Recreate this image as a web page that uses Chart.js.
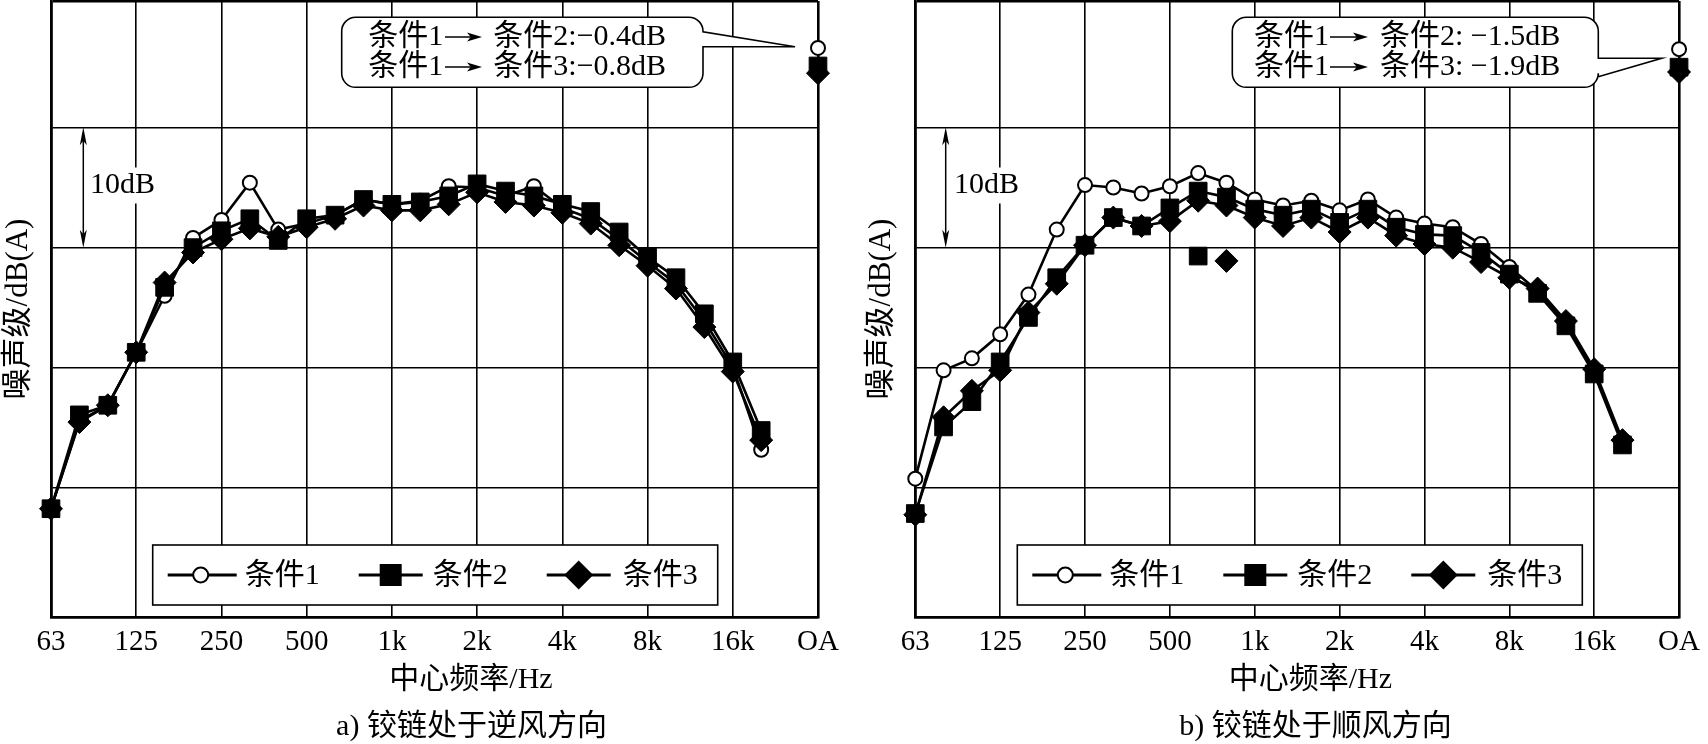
<!DOCTYPE html>
<html>
<head>
<meta charset="utf-8">
<script src="https://cdn.jsdelivr.net/npm/chart.js@4.4.1/dist/chart.umd.min.js"></script>
<style>
  body { margin: 0; background: #fff; }
  .panel { position: absolute; top: 0; width: 854px; height: 744px; }
  canvas { display: block; }
</style>
</head>
<body>
<div class="panel" style="left:0"><canvas id="chart_a" width="854" height="744"></canvas></div>
<div class="panel" style="left:854px"><canvas id="chart_b" width="854" height="744"></canvas></div>
<script>
// 1/3 octave centre frequencies, position on the x axis = index
const bands = ['63', '80', '100', '125', '160', '200', '250', '315', '400', '500', '630', '800', '1k',
               '1.25k', '1.6k', '2k', '2.5k', '3.15k', '4k', '5k', '6.3k', '8k', '10k', '12.5k', '16k', '20k'];
const octaveLabels = ['63', '125', '250', '500', '1k', '2k', '4k', '8k', '16k', 'OA'];
const seriesNames = ['条件1', '条件2', '条件3'];

// y grid (dB), no tick labels in the figure
const yGrid = [50, 60, 70, 80];
const yMin = 39.3;
const yMax = 90.5;

// a) hinge upwind
const a_cond1 = [48.3, 55.6, 56.9, 61.3, 66.0, 70.8, 72.3, 75.4, 71.5, 72.0, 72.7, 74.0, 73.6,
                 73.9, 75.1, 75.0, 74.3, 75.1, 73.3, 72.4, 70.7, 68.8, 67.0, 63.9, 60.1, 53.2];
const a_cond2 = [48.3, 56.1, 56.9, 61.3, 66.7, 70.0, 71.4, 72.4, 70.6, 72.4, 72.7, 74.0, 73.6,
                 73.8, 74.3, 75.3, 74.7, 74.3, 73.6, 73.0, 71.3, 69.2, 67.5, 64.5, 60.5, 54.8];
const a_cond3 = [48.3, 55.5, 56.9, 61.3, 67.1, 69.6, 70.7, 71.6, 70.9, 71.7, 72.4, 73.5, 73.1,
                 73.1, 73.6, 74.6, 73.8, 73.5, 72.9, 72.0, 70.2, 68.5, 66.6, 63.4, 59.7, 54.0];
const a_oa = [86.6, 85.1, 84.5];
const a_notes = ['条件2:−0.4dB', '条件3:−0.8dB'];

// b) hinge downwind
const b_cond1 = [50.8, 59.8, 60.8, 62.8, 66.1, 71.5, 75.2, 75.0, 74.5, 75.1, 76.2, 75.4, 74.0,
                 73.5, 73.9, 73.1, 74.0, 72.5, 72.0, 71.7, 70.3, 68.4, 66.4, 63.7, 59.7, 53.8];
const b_cond2 = [47.9, 55.1, 57.2, 60.5, 64.2, 67.5, 70.2, 72.5, 71.8, 73.3, 74.7, 74.2, 73.2,
                 72.7, 73.2, 72.1, 73.2, 71.7, 71.1, 71.0, 69.6, 67.8, 66.2, 63.5, 59.5, 53.6];
const b_cond3 = [47.8, 55.9, 58.1, 59.8, 64.6, 67.0, 70.2, 72.5, 71.8, 72.2, 73.9, 73.5, 72.5,
                 71.8, 72.5, 71.3, 72.5, 71.0, 70.3, 70.0, 68.8, 67.5, 66.6, 63.9, 59.9, 54.0];
const b_oa = [86.5, 85.0, 84.6];
// loose markers (band index, dB) that sit off the curves
const b_loose2 = [[10, 69.3]];
const b_loose3 = [[11, 68.9]];
const b_notes = ['条件2: −1.5dB', '条件3: −1.9dB'];

const FONT = "'Liberation Serif', 'Noto Sans CJK SC', serif";
Chart.defaults.font.family = FONT;
Chart.defaults.color = '#000';

const markerStyles = [
    { pointStyle: 'circle', pointRadius: 7, pointBackgroundColor: '#fff', pointBorderWidth: 2, order: 3 },
    { pointStyle: 'rect', pointRadius: 12.5, pointBackgroundColor: '#000', pointBorderWidth: 1, order: 2 },
    { pointStyle: 'rectRot', pointRadius: 11.5, pointBackgroundColor: '#000', pointBorderWidth: 1, order: 1 },
];

function curve(values, oa) {
    const pts = values.map((v, i) => ({ x: i, y: v }));
    pts.push({ x: bands.length, y: null });
    pts.push({ x: bands.length + 1, y: oa });
    return pts;
}

function makeDatasets(series, oa, loose) {
    const sets = series.map((vals, k) => Object.assign({
        label: seriesNames[k],
        data: curve(vals, oa[k]),
        borderColor: '#000',
        borderWidth: 2.6,
        pointBorderColor: '#000',
        tension: 0,
        clip: false,
    }, markerStyles[k]));
    loose.forEach((pts, k) => {
        if (!pts.length) return;
        sets.push(Object.assign({
            label: seriesNames[k + 1],
            data: pts.map(p => ({ x: p[0], y: p[1] })),
            showLine: false,
            pointBorderColor: '#000',
            clip: false,
        }, markerStyles[k + 1]));
    });
    return sets;
}

function drawMarker(ctx, style, x, y, r) {
    ctx.beginPath();
    if (style === 'circle') {
        ctx.arc(x, y, r, 0, Math.PI * 2);
        ctx.fillStyle = '#fff';
        ctx.fill();
        ctx.lineWidth = 2;
        ctx.stroke();
        return;
    }
    if (style === 'rect') {
        ctx.rect(x - r, y - r, 2 * r, 2 * r);
    } else {
        ctx.moveTo(x, y - r);
        ctx.lineTo(x + r, y);
        ctx.lineTo(x, y + r);
        ctx.lineTo(x - r, y);
        ctx.closePath();
    }
    ctx.fillStyle = '#000';
    ctx.fill();
}

function arrowHead(ctx, x, y, dx, dy, len, half) {
    // tip at (x, y), pointing along (dx, dy)
    const bx = x - dx * len, by = y - dy * len;
    const nx = -dy, ny = dx;
    ctx.beginPath();
    ctx.moveTo(x, y);
    ctx.lineTo(bx + nx * half, by + ny * half);
    ctx.lineTo(x - dx * len * 0.75, y - dy * len * 0.75);
    ctx.lineTo(bx - nx * half, by - ny * half);
    ctx.closePath();
    ctx.fill();
}

function makeDecor(L, notes, caption) {
    return {
        id: 'decor',
        beforeDatasetsDraw(chart) {
            const ctx = chart.ctx;
            const yScale = chart.scales.y;
            ctx.save();
            ctx.strokeStyle = '#000';
            ctx.fillStyle = '#000';

            // legend box inside the plot
            const lx = L.legendX, ly = 545, lw = 565, lh = 60, cy = 575;
            ctx.fillStyle = '#fff';
            ctx.fillRect(lx, ly, lw, lh);
            ctx.lineWidth = 1.6;
            ctx.strokeRect(lx, ly, lw, lh);
            const legLines = [[15, 84], [206, 270], [394, 458]];
            const legMarks = [48, 238, 426];
            const legText = [92, 280, 470];
            const legSize = [7.5, 11, 14.5];
            ['circle', 'rect', 'rectRot'].forEach((st, k) => {
                ctx.lineWidth = 3;
                ctx.beginPath();
                ctx.moveTo(lx + legLines[k][0], cy);
                ctx.lineTo(lx + legLines[k][1], cy);
                ctx.stroke();
                drawMarker(ctx, st, lx + legMarks[k], cy, legSize[k]);
                ctx.fillStyle = '#000';
                ctx.font = '30px ' + FONT;
                ctx.textBaseline = 'middle';
                ctx.textAlign = 'left';
                ctx.fillText(seriesNames[k], lx + legText[k], cy + 1);
            });

            // callout with the overall-level differences
            const c = L.callout, r = 14;
            ctx.beginPath();
            ctx.moveTo(c.x0 + r, c.y0);
            ctx.lineTo(c.x1 - r, c.y0);
            ctx.arcTo(c.x1, c.y0, c.x1, c.y0 + r, r);
            ctx.lineTo(c.x1, c.pTop);
            ctx.lineTo(c.tip[0], c.tip[1]);
            ctx.lineTo(c.x1, c.pBot);
            ctx.lineTo(c.x1, c.y1 - r);
            ctx.arcTo(c.x1, c.y1, c.x1 - r, c.y1, r);
            ctx.lineTo(c.x0 + r, c.y1);
            ctx.arcTo(c.x0, c.y1, c.x0, c.y1 - r, r);
            ctx.lineTo(c.x0, c.y0 + r);
            ctx.arcTo(c.x0, c.y0, c.x0 + r, c.y0, r);
            ctx.closePath();
            ctx.fillStyle = '#fff';
            ctx.fill();
            ctx.lineWidth = 1.6;
            ctx.stroke();
            ctx.fillStyle = '#000';
            ctx.font = '30px ' + FONT;
            ctx.textBaseline = 'middle';
            ctx.textAlign = 'left';
            [37, 67].forEach((ty, k) => {
                ctx.fillText(seriesNames[0], L.noteX[0], ty);
                ctx.lineWidth = 1.5;
                ctx.beginPath();
                ctx.moveTo(L.noteX[1], ty);
                ctx.lineTo(L.noteX[2] - 10, ty);
                ctx.stroke();
                arrowHead(ctx, L.noteX[2], ty, 1, 0, 15, 4.5);
                ctx.fillText(notes[k], L.noteX[3], ty);
            });

            // 10 dB scale bar
            const yTop = yScale.getPixelForValue(80), yBot = yScale.getPixelForValue(70);
            ctx.lineWidth = 1.5;
            ctx.beginPath();
            ctx.moveTo(L.tenX, yTop + 8);
            ctx.lineTo(L.tenX, yBot - 8);
            ctx.stroke();
            arrowHead(ctx, L.tenX, yTop, 0, -1, 18, 3.5);
            arrowHead(ctx, L.tenX, yBot, 0, 1, 18, 3.5);
            const tw = ctx.measureText('10dB').width;
            const ty = (yTop + yBot) / 2 - 2;
            ctx.fillStyle = '#fff';
            ctx.fillRect(L.tenTextX - 2, ty - 18, tw + 4, 36);
            ctx.fillStyle = '#000';
            ctx.fillText('10dB', L.tenTextX, ty);
            ctx.restore();
        },
        afterDraw(chart) {
            const ctx = chart.ctx;
            ctx.save();
            ctx.fillStyle = '#000';
            ctx.font = '30px ' + FONT;
            ctx.textAlign = 'center';
            ctx.textBaseline = 'middle';
            ctx.fillText('中心频率/Hz', L.xTitleX, 680);
            ctx.fillText(caption, L.captionX, 727);
            ctx.restore();
        }
    };
}

function edgeWidth(n) {
    return (ctx) => (ctx.index === 0 || ctx.index === n - 1) ? 2.6 : 1.6;
}

function makeChart(id, datasets, L, notes, caption) {
    const el = document.getElementById(id).getContext('2d');
    return new Chart(el, {
        type: 'line',
        data: { datasets: datasets },
        options: {
            responsive: false,
            animation: false,
            layout: { autoPadding: false, padding: { top: 1, right: L.padR, bottom: 0, left: 0 } },
            plugins: {
                legend: { display: false },
                tooltip: { enabled: false },
            },
            scales: {
                x: {
                    type: 'linear',
                    min: 0,
                    max: bands.length + 1,
                    afterBuildTicks: (scale) => {
                        scale.ticks = octaveLabels.map((_, i) => ({ value: i * 3 }));
                    },
                    afterFit: (scale) => { scale.height = 127; },
                    ticks: {
                        autoSkip: false,
                        maxRotation: 0,
                        padding: 8,
                        font: { size: 29 },
                        color: '#000',
                        callback: (v) => octaveLabels[Math.round(v / 3)],
                    },
                    grid: { color: '#000', lineWidth: edgeWidth(octaveLabels.length), drawTicks: false },
                    border: { display: true, color: '#000', width: 2.6 },
                },
                y: {
                    type: 'linear',
                    min: yMin,
                    max: yMax,
                    afterBuildTicks: (scale) => {
                        scale.ticks = [yMin, ...yGrid, yMax].map(v => ({ value: v }));
                    },
                    afterFit: (scale) => { scale.width = L.axisW; },
                    ticks: { display: false },
                    grid: { color: '#000', lineWidth: edgeWidth(yGrid.length + 2), drawTicks: false },
                    border: { display: true, color: '#000', width: 2.6 },
                    title: {
                        display: true,
                        text: '噪声级/dB(A)',
                        font: { size: 31 },
                        color: '#000',
                        padding: { top: L.yTitlePad, bottom: 0 },
                    },
                },
            },
        },
        plugins: [makeDecor(L, notes, caption)],
    });
}

const layoutA = {
    axisW: 51, padR: 36, yTitlePad: 0, legendX: 152.7,
    callout: { x0: 341.7, x1: 703, y0: 17.3, y1: 87.3, pTop: 31.7, tip: [795, 46.7], pBot: 46.7 },
    noteX: [368.3, 445, 482, 493.3],
    tenX: 83.3, tenTextX: 90, xTitleX: 471, captionX: 471.5,
};
const layoutB = {
    axisW: 61.3, padR: 24.7, yTitlePad: 9, legendX: 163.3,
    callout: { x0: 378.3, x1: 744.3, y0: 17.3, y1: 87.3, pTop: 58.3, tip: [807.7, 58.3], pBot: 76.7 },
    noteX: [400, 476, 514, 526],
    tenX: 91.7, tenTextX: 100, xTitleX: 456.3, captionX: 461.4,
};

makeChart('chart_a', makeDatasets([a_cond1, a_cond2, a_cond3], a_oa, []), layoutA, a_notes, 'a) 铰链处于逆风方向');
makeChart('chart_b', makeDatasets([b_cond1, b_cond2, b_cond3], b_oa, [b_loose2, b_loose3]), layoutB, b_notes, 'b) 铰链处于顺风方向');
</script>
</body>
</html>
